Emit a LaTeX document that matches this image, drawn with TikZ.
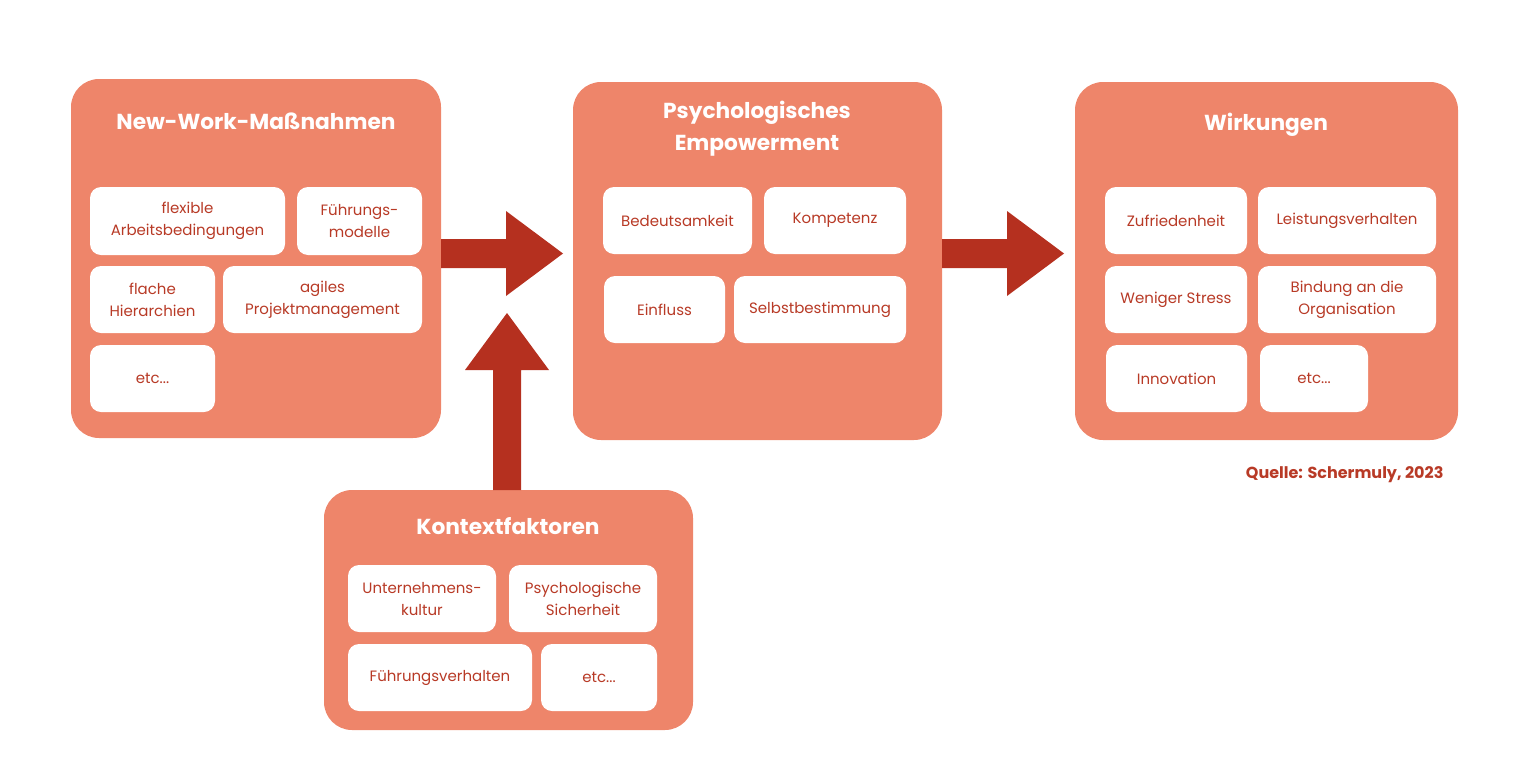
\documentclass[tikz,border=0pt]{standalone}
\usepackage{fontspec}
\setmainfont{Poppins}
\definecolor{boxc}{HTML}{EE856A}
\definecolor{arr}{HTML}{B5301F}
\definecolor{txt}{HTML}{B83A26}
\begin{document}
\begin{tikzpicture}[x=1pt,y=-1pt,
  outer/.style={fill=boxc,rounded corners=28pt},
  inner/.style={fill=white,rounded corners=11pt},
  lbl/.style={text=txt,font=\fontsize{15}{22}\selectfont,align=center},
  ttl/.style={text=white,font=\fontsize{21.7}{32}\selectfont\bfseries,align=center},
  arrow/.style={fill=arr}]
\useasboundingbox (0,0) rectangle (1536,758);
\newcommand\ib[6]{\fill[inner] (#1,#3) rectangle (#2,#4); \node[lbl] (#6) at ({(#1+#2)/2},{(#3+#4)/2}) {#5};}
% boxes
\fill[outer] (71,79) rectangle (441,438);
\node[ttl] (t1) at (256,121) {New-Work-Maßnahmen};
\ib{90}{285}{187}{255}{flexible\\Arbeitsbedingungen}{a1}
\ib{297}{422}{187}{255}{Führungs-\\modelle}{a2}
\ib{90}{215}{266}{333}{flache\\Hierarchien}{a3}
\ib{223}{422}{266}{333}{agiles\\Projektmanagement}{a4}
\ib{90}{215}{345}{412}{etc...}{a5}
\fill[outer] (573,82) rectangle (942,440);
\node[ttl] (t2) at (757,129) {Psychologisches\\Empowerment};
\ib{603}{752}{187}{254}{Bedeutsamkeit}{b1}
\ib{764}{906}{187}{254}{Kompetenz}{b2}
\ib{604}{725}{276}{343}{Einfluss}{b3}
\ib{734}{906}{276}{343}{Selbstbestimmung}{b4}
\fill[outer] (1075,82) rectangle (1458,440);
\node[ttl] (t3) at (1266,125) {Wirkungen};
\ib{1105}{1247}{187}{254}{Zufriedenheit}{c1}
\ib{1258}{1436}{187}{254}{Leistungsverhalten}{c2}
\ib{1105}{1247}{266}{333}{Weniger Stress}{c3}
\ib{1258}{1436}{266}{333}{Bindung an die\\Organisation}{c4}
\ib{1106}{1247}{345}{412}{Innovation}{c5}
\ib{1260}{1368}{345}{412}{etc...}{c6}
\fill[outer] (324,490) rectangle (693,730);
\node[ttl] (t4) at (508,526) {Kontextfaktoren};
\ib{348}{496}{565}{632}{Unternehmens-\\kultur}{d1}
\ib{509}{657}{565}{632}{Psychologische\\Sicherheit}{d2}
\ib{348}{532}{644}{711}{Führungsverhalten}{d3}
\ib{541}{657}{644}{711}{etc...}{d4}
% arrows
\fill[arrow] (441,239) -- (506,239) -- (506,211) -- (563,253.5) -- (506,296) -- (506,268) -- (441,268) -- cycle;
\fill[arrow] (942,239) -- (1007,239) -- (1007,211) -- (1064,253.5) -- (1007,296) -- (1007,268) -- (942,268) -- cycle;
\fill[arrow] (493,490) -- (493,370) -- (465,370) -- (507,313) -- (549,370) -- (521,370) -- (521,490) -- cycle;
\node[text=txt,font=\fontsize{16}{18}\selectfont\bfseries,anchor=east] (q) at (1447,475) {Quelle: Schermuly, 2023};
\end{tikzpicture}
\end{document}
